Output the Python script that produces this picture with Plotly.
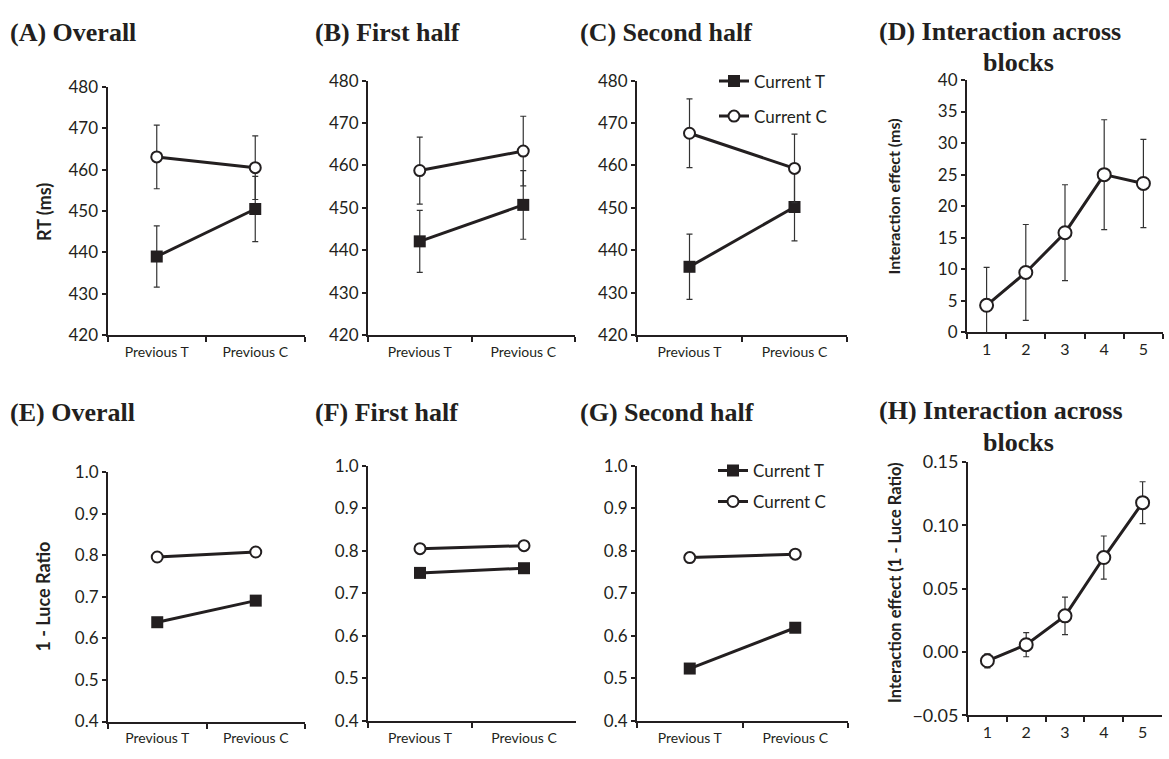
import plotly.graph_objects as go

# ---------------- data ----------------
categories = ["Previous T", "Previous C"]
blocks = ["1", "2", "3", "4", "5"]

rt_overall_T = [439.0, 450.5]
rt_overall_T_err = [7.4, 7.9]
rt_overall_C = [463.1, 460.5]
rt_overall_C_err = [7.7, 7.7]

rt_first_T = [442.1, 450.7]
rt_first_T_err = [7.3, 8.1]
rt_first_C = [458.8, 463.4]
rt_first_C_err = [7.9, 8.2]

rt_second_T = [436.1, 450.2]
rt_second_T_err = [7.7, 8.0]
rt_second_C = [467.6, 459.3]
rt_second_C_err = [8.1, 8.1]

rt_interaction = [4.3, 9.5, 15.8, 25.0, 23.6]
rt_interaction_err = [6.0, 7.6, 7.6, 8.7, 7.0]

luce_overall_T = [0.639, 0.691]
luce_overall_C = [0.796, 0.808]
luce_first_T = [0.748, 0.759]
luce_first_C = [0.805, 0.812]
luce_second_T = [0.523, 0.619]
luce_second_C = [0.784, 0.792]

luce_interaction = [-0.007, 0.0057, 0.0285, 0.0745, 0.1178]
luce_interaction_err = [0.0055, 0.0095, 0.0148, 0.017, 0.0165]

# ---------------- layout helpers ----------------
W, H = 1169, 759
INK = "#231f20"


def fx(px):
    return px / W


def fy(py):
    return 1 - py / H


# panel pixel boxes: (left, right, top, bottom)
boxes = {
    1: (107.5, 304.5, 77.3, 332.7),
    2: (368, 575, 70.7, 332.7),
    3: (637, 847, 70.7, 332.7),
    4: (967, 1163, 70, 330),
    5: (108, 305, 474, 730.7),
    6: (368, 576, 467.3, 730),
    7: (637, 848, 467.3, 730),
    8: (968, 1162, 463.3, 724.3),
}

fig = go.Figure()


def add_pair(i, yT, yC, eT=None, eC=None, legend=None):
    xa = "x" if i == 1 else f"x{i}"
    ya = "y" if i == 1 else f"y{i}"
    for name, yv, ev, sym, fill, size in [
        ("Current T", yT, eT, "square", INK, 12),
        ("Current C", yC, eC, "circle", "white", 11),
    ]:
        tr = dict(
            x=categories, y=yv, xaxis=xa, yaxis=ya, mode="lines+markers",
            name=name, cliponaxis=False,
            line=dict(color=INK, width=3),
            marker=dict(symbol=sym, size=size, color=fill,
                        line=dict(color=INK, width=2 if sym == "circle" else 0)),
            showlegend=legend is not None,
        )
        if legend is not None:
            tr["legend"] = legend
            tr["legendgroup"] = name + legend
        if ev is not None:
            tr["error_y"] = dict(type="data", array=ev, visible=True,
                                 color="#333333", thickness=1.2, width=3)
        fig.add_trace(go.Scatter(**tr))


def add_single(i, yv, ev):
    xa = f"x{i}"
    ya = f"y{i}"
    fig.add_trace(go.Scatter(
        x=blocks, y=yv, xaxis=xa, yaxis=ya, mode="lines+markers",
        cliponaxis=False, showlegend=False,
        line=dict(color=INK, width=3),
        marker=dict(symbol="circle", size=13, color="white", line=dict(color=INK, width=2)),
        error_y=dict(type="data", array=ev, visible=True, color="#333333", thickness=1.2, width=3),
    ))


add_pair(1, rt_overall_T, rt_overall_C, rt_overall_T_err, rt_overall_C_err)
add_pair(2, rt_first_T, rt_first_C, rt_first_T_err, rt_first_C_err)
add_pair(3, rt_second_T, rt_second_C, rt_second_T_err, rt_second_C_err, legend="legend")
add_single(4, rt_interaction, rt_interaction_err)
add_pair(5, luce_overall_T, luce_overall_C)
add_pair(6, luce_first_T, luce_first_C)
add_pair(7, luce_second_T, luce_second_C, legend="legend2")
add_single(8, luce_interaction, luce_interaction_err)

layout = dict(
    width=W, height=H, autosize=False,
    margin=dict(l=0, r=0, t=0, b=0),
    plot_bgcolor="white", paper_bgcolor="white",
    font=dict(family="Lato", color=INK),
)

yspecs = {
    1: dict(range=[420, 480], dtick=10),
    2: dict(range=[420, 480], dtick=10),
    3: dict(range=[420, 480], dtick=10),
    4: dict(range=[0, 40], dtick=5),
    5: dict(range=[0.4, 1.0], dtick=0.1, tickformat=".1f"),
    6: dict(range=[0.4, 1.0], dtick=0.1, tickformat=".1f"),
    7: dict(range=[0.4, 1.0], dtick=0.1, tickformat=".1f"),
    8: dict(range=[-0.05, 0.15], dtick=0.05, tickformat=".2f"),
}

for i, (l, r, t, b) in boxes.items():
    xk = "xaxis" if i == 1 else f"xaxis{i}"
    yk = "yaxis" if i == 1 else f"yaxis{i}"
    ycode = "y" if i == 1 else f"y{i}"
    xcode = "x" if i == 1 else f"x{i}"
    ncat = 5 if i in (4, 8) else 2
    layout[xk] = dict(
        domain=[fx(l), fx(r)], anchor=ycode, type="category",
        range=[-0.5, ncat - 0.5], tickson="boundaries",
        showline=True, linecolor=INK, linewidth=2,
        ticks="outside", ticklen=5, tickwidth=1.5, tickcolor=INK,
        ticklabelstandoff=1 if ncat == 5 else 3,
        showgrid=False, zeroline=False, fixedrange=True,
        tickfont=dict(family="Lato", size=16 if ncat == 5 else 14, color=INK),
    )
    ys = yspecs[i]
    layout[yk] = dict(
        domain=[fy(b), fy(t)], anchor=xcode,
        range=ys["range"], dtick=ys["dtick"], tick0=ys["range"][0],
        tickformat=ys.get("tickformat", None),
        showline=True, linecolor=INK, linewidth=2,
        ticks="outside", ticklen=4, tickwidth=1.5, tickcolor=INK,
        showgrid=False, zeroline=False, fixedrange=True,
        tickfont=dict(family="Lato", size=18 if i == 8 else 17, color=INK),
    )

layout["legend"] = dict(
    x=fx(714), y=fy(53), xanchor="left", yanchor="top",
    bgcolor="rgba(0,0,0,0)", font=dict(family="Lato", size=17, color=INK),
    traceorder="grouped", tracegroupgap=10, itemwidth=30,
)
layout["legend2"] = dict(
    x=fx(713), y=fy(454), xanchor="left", yanchor="top",
    bgcolor="rgba(0,0,0,0)", font=dict(family="Lato", size=17, color=INK),
    traceorder="grouped", tracegroupgap=6, itemwidth=30,
)

ann = []
TF = dict(family="Liberation Serif", size=26, color=INK)
titles = [
    ("(A) Overall", 8, 21),
    ("(B) First half", 313, 21),
    ("(C) Second half", 578, 21),
    ("(D) Interaction across", 877, 20),
    ("(E) Overall", 8, 412),
    ("(F) First half", 313, 412),
    ("(G) Second half", 578, 412),
    ("(H) Interaction across", 877, 410),
]
for txt, px, py in titles:
    ann.append(dict(text=f"<b>{txt}</b>", x=fx(px), y=fy(py), xref="paper", yref="paper",
                    xanchor="left", yanchor="middle", showarrow=False, font=TF))
for py in (52, 443):
    ann.append(dict(text="<b>blocks</b>", x=fx(1018), y=fy(py), xref="paper", yref="paper",
                    xanchor="center", yanchor="middle", showarrow=False, font=TF))

ytitles = [
    ("RT (ms)", 44, 206, 18),
    ("1 - Luce Ratio", 43, 602, 18),
    ("Interaction effect (ms)", 893, 190, 16),
    ("Interaction effect (1 - Luce Ratio)", 895, 588, 16.5),
]
for txt, px, py, sz in ytitles:
    ann.append(dict(text=f"<b>{txt}</b>", x=fx(px), y=fy(py), xref="paper", yref="paper",
                    xanchor="center", yanchor="middle", textangle=-90, showarrow=False,
                    font=dict(family="Lato", size=sz, color=INK)))

layout["annotations"] = ann
fig.update_layout(**layout)

fig.write_html("out.html", config={"displayModeBar": False},
               post_script="document.body.style.margin='0px';document.body.style.overflow='hidden';")
